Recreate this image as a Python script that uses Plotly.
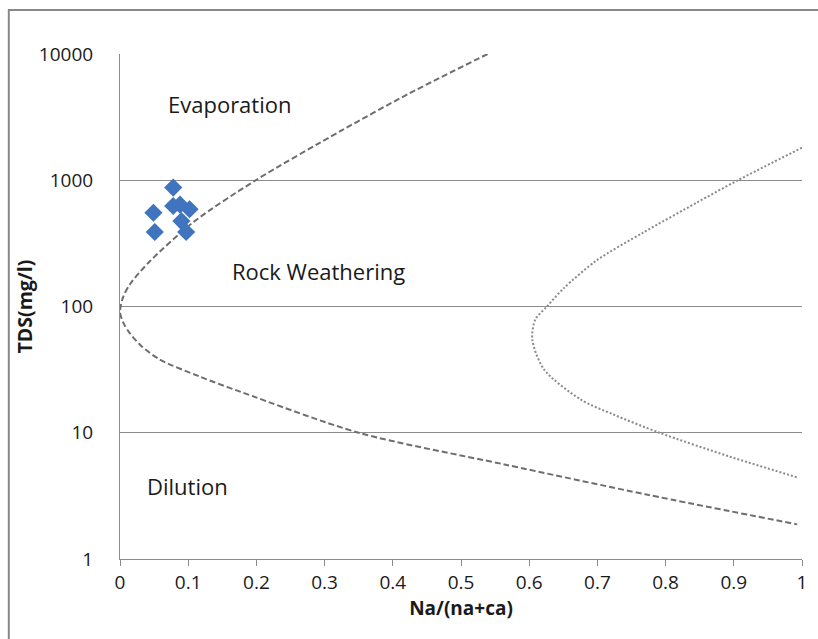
import math
import plotly.graph_objects as go

# Sample points: Na/(Na+Ca) ratio and TDS (mg/l)
sample_ratio = [0.078, 0.049, 0.051, 0.078, 0.088, 0.102, 0.090, 0.097]
sample_tds = [875, 553, 389, 625, 640, 589, 475, 389]

# Outer Gibbs boundary (dashed), traced from top end to bottom end
outer_ratio = [0.539, 0.4225, 0.325, 0.199, 0.109, 0.0437, 0.0146, 0.0044, 0.0,
               0.0048, 0.0146, 0.032, 0.058, 0.1165, 0.179, 0.35, 0.5638, 0.772, 0.993]
outer_tds = [10000, 4820, 2480, 1000, 472, 228, 150, 118, 91,
             74.4, 61.2, 48.3, 38.1, 27.9, 20.9, 10, 5.61, 3.24, 1.88]

# Inner Gibbs boundary (dotted)
inner_ratio = [1.0, 0.906, 0.845, 0.767, 0.699, 0.651, 0.626, 0.609, 0.6045,
               0.6216, 0.675, 0.7234, 0.791, 0.893, 0.995]
inner_tds = [1810, 1000, 662, 385, 232, 140, 100, 79, 54.8,
             31.8, 18.4, 13.96, 10, 6.5, 4.4]

y_ticks = [1, 10, 100, 1000, 10000]
x_ticks = [0, 0.1, 0.2, 0.3, 0.4, 0.5, 0.6, 0.7, 0.8, 0.9, 1]
x_tick_text = ["0", "0.1", "0.2", "0.3", "0.4", "0.5", "0.6", "0.7", "0.8", "0.9", "1"]

region_labels = ["Evaporation", "Rock Weathering", "Dilution"]
region_x = [0.068, 0.161, 0.036]
region_y = [3990, 190, 3.82]

FONT = "Open Sans"
GRID = "#8c8c8c"

fig = go.Figure()
fig.add_trace(go.Scatter(
    x=outer_ratio, y=outer_tds, mode="lines",
    line=dict(color="#6e6e6e", width=2, dash="6px,3px", shape="spline", smoothing=0.8),
    hoverinfo="skip"))
fig.add_trace(go.Scatter(
    x=inner_ratio, y=inner_tds, mode="lines",
    line=dict(color="#8a8a8a", width=2, dash="2px,2px", shape="spline", smoothing=0.8),
    hoverinfo="skip"))
fig.add_trace(go.Scatter(
    x=sample_ratio, y=sample_tds, mode="markers",
    marker=dict(symbol="diamond", size=14, color="#4174BE", line=dict(width=0))))

# region names (log axis: annotation y is given as log10)
for txt, xv, yv in zip(region_labels, region_x, region_y):
    fig.add_annotation(x=xv, y=math.log10(yv), yref="y", xref="x", text=txt,
                       showarrow=False, xanchor="left", yanchor="middle",
                       font=dict(family=FONT, size=22, color="#1a1a1a"))

# chart-area frame
W, H = 818, 639
L, R, T, B = 120, 11, 54, 80
pw, ph = W - L - R, H - T - B
fig.add_shape(type="rect", xref="paper", yref="paper",
              x0=(8 - L) / pw, x1=(W + 20 - L) / pw,
              y0=-(H + 20 - T - ph) / ph, y1=1 + (T - 10) / ph,
              line=dict(color="#888888", width=2), fillcolor="rgba(0,0,0,0)", layer="below")

fig.update_layout(
    width=W, height=H,
    margin=dict(l=L, r=R, t=T, b=B),
    paper_bgcolor="white", plot_bgcolor="white",
    showlegend=False,
    font=dict(family=FONT, size=19, color="#1a1a1a"),
    xaxis=dict(range=[0, 1], tickvals=x_ticks, ticktext=x_tick_text,
               showgrid=False, zeroline=False, showline=True, linecolor=GRID, linewidth=1,
               ticks="outside", ticklen=6, tickcolor=GRID,
               title=dict(text="<b>Na/(na+ca)</b>", font=dict(family=FONT, size=19), standoff=5)),
    yaxis=dict(type="log", range=[0, 4], tickvals=y_ticks,
               ticktext=[str(v) for v in y_ticks],
               showgrid=True, gridcolor=GRID, gridwidth=1, zeroline=False,
               showline=True, linecolor=GRID, linewidth=1, ticks="", ticklabelstandoff=22,
               title=dict(text="<b>TDS(mg/l)</b>", font=dict(family=FONT, size=19.5), standoff=1)),
)

fig.write_html("out.html")
